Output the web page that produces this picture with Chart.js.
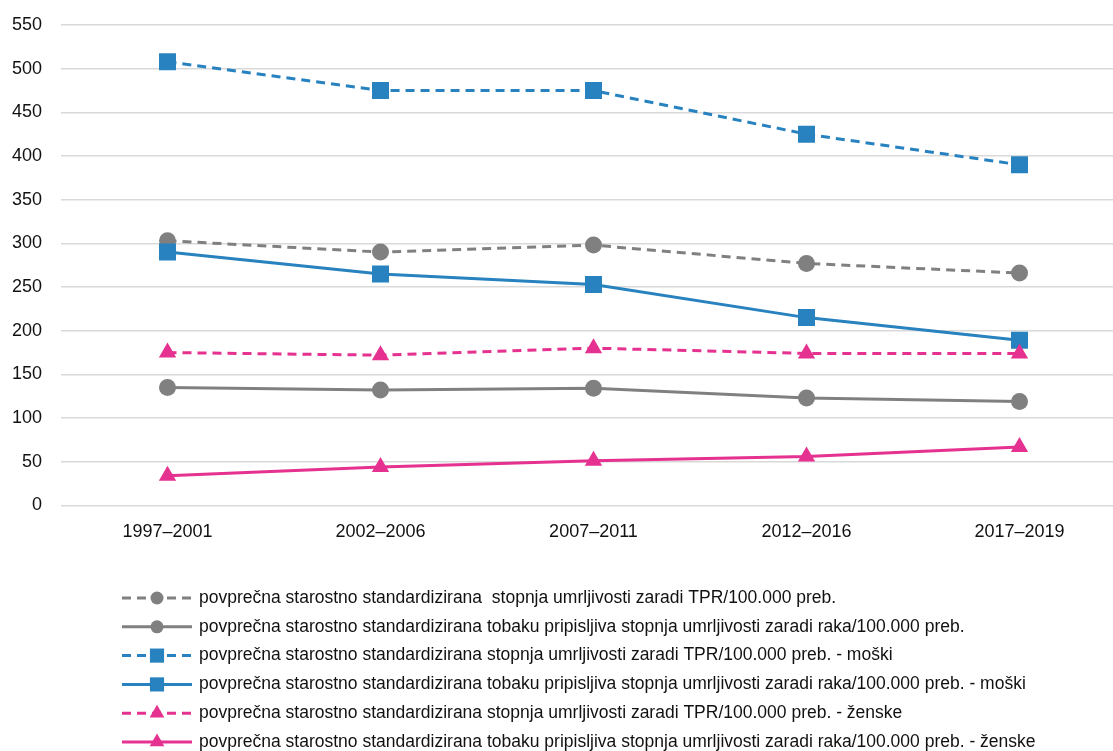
<!DOCTYPE html>
<html>
<head>
<meta charset="utf-8">
<script src="https://cdn.jsdelivr.net/npm/chart.js@4.4.0/dist/chart.umd.min.js"></script>
<style>
html, body { margin: 0; padding: 0; overflow: hidden; background: #fff; }
#wrap { position: relative; width: 1113px; height: 751px; overflow: hidden; }
#chart { position: absolute; left: 0; top: 0; display: block; }
</style>
</head>
<body>
<div id="wrap"><canvas id="chart" width="1126" height="770"></canvas></div>
<script>
// categories and series
const periods = ['1997–2001', '2002–2006', '2007–2011', '2012–2016', '2017–2019'];
const tprAll = [303, 290, 298, 277, 266];
const cancerAll = [135, 132, 134, 123, 119];
const tprMen = [508, 475, 475, 425, 390];
const cancerMen = [290, 265, 253, 215, 189];
const tprWomen = [175, 172, 180, 174, 174];
const cancerWomen = [34, 44, 51, 56, 67];

const labels = [
    'povprečna starostno standardizirana  stopnja umrljivosti zaradi TPR/100.000 preb.',
    'povprečna starostno standardizirana tobaku pripisljiva stopnja umrljivosti zaradi raka/100.000 preb.',
    'povprečna starostno standardizirana stopnja umrljivosti zaradi TPR/100.000 preb. - moški',
    'povprečna starostno standardizirana tobaku pripisljiva stopnja umrljivosti zaradi raka/100.000 preb. - moški',
    'povprečna starostno standardizirana stopnja umrljivosti zaradi TPR/100.000 preb. - ženske',
    'povprečna starostno standardizirana tobaku pripisljiva stopnja umrljivosti zaradi raka/100.000 preb. - ženske'
];

const GREY = '#808080';
const BLUE = '#2782BF';
const PINK = '#E5318F';
const FONT = 'Liberation Sans, Arial, sans-serif';

function series(i, data, color, dashed, style, radius) {
    return {
        label: labels[i],
        data: data,
        borderColor: color,
        backgroundColor: color,
        borderWidth: 3,
        borderDash: dashed ? [9, 6] : [],
        pointStyle: style,
        pointRadius: radius,
        pointHoverRadius: radius,
        pointBorderWidth: 0,
        tension: 0,
        order: 6 - i
    };
}

// legend drawn by hand: line with marker in the middle, like the original
function drawMarker(ctx, style, x, y, r) {
    ctx.beginPath();
    if (style === 'circle') {
        ctx.arc(x, y, r, 0, Math.PI * 2);
    } else if (style === 'rect') {
        const s = r / Math.SQRT2;
        ctx.rect(x - s, y - s, s * 2, s * 2);
    } else {
        ctx.moveTo(x, y - r);
        ctx.lineTo(x + r * 0.866, y + r * 0.5);
        ctx.lineTo(x - r * 0.866, y + r * 0.5);
        ctx.closePath();
    }
    ctx.fill();
}

const markerSize = { circle: 6.5, rect: 10, triangle: 8.5 };

const lineLegend = {
    id: 'lineLegend',
    afterDraw(chart) {
        const ctx = chart.ctx;
        const x0 = 122, x1 = 192, top = 598, step = 28.8;
        ctx.save();
        chart.data.datasets.forEach((ds, i) => {
            const y = top + i * step;
            ctx.strokeStyle = ds.borderColor;
            ctx.fillStyle = ds.borderColor;
            ctx.lineWidth = 3;
            ctx.setLineDash(ds.borderDash);
            ctx.beginPath();
            ctx.moveTo(x0, y);
            ctx.lineTo(x1, y);
            ctx.stroke();
            ctx.setLineDash([]);
            drawMarker(ctx, ds.pointStyle, (x0 + x1) / 2, y, markerSize[ds.pointStyle]);
            ctx.fillStyle = '#111';
            ctx.font = '17.5px ' + FONT;
            ctx.textBaseline = 'middle';
            ctx.textAlign = 'left';
            ctx.fillText(ds.label, 199, y);
        });
        ctx.restore();
    }
};

new Chart(document.getElementById('chart'), {
    type: 'line',
    data: {
        labels: periods,
        datasets: [
            series(0, tprAll, GREY, true, 'circle', 8.5),
            series(1, cancerAll, GREY, false, 'circle', 8.5),
            series(2, tprMen, BLUE, true, 'rect', 12),
            series(3, cancerMen, BLUE, false, 'rect', 12),
            series(4, tprWomen, PINK, true, 'triangle', 10),
            series(5, cancerWomen, PINK, false, 'triangle', 10)
        ]
    },
    options: {
        responsive: false,
        animation: false,
        // canvas is a bit wider than the picture: the plot runs past its right edge
        layout: { autoPadding: false, padding: { left: 12, right: 0, top: 25, bottom: 211 } },
        plugins: {
            legend: { display: false },
            tooltip: { enabled: false }
        },
        scales: {
            x: {
                offset: true,
                grid: { display: false, drawTicks: false },
                border: { display: false },
                ticks: { color: '#111', font: { family: FONT, size: 18 }, padding: 16, maxRotation: 0 }
            },
            y: {
                min: 0,
                max: 550,
                afterFit(scale) {
                    scale.width = 49;
                    scale.paddingTop = 0;
                },
                grid: { color: '#d9d9d9', lineWidth: 1.5, drawTicks: false },
                border: { display: false },
                ticks: { stepSize: 50, color: '#111', font: { family: FONT, size: 18 }, padding: 19 }
            }
        }
    },
    plugins: [lineLegend]
});
</script>
</body>
</html>
